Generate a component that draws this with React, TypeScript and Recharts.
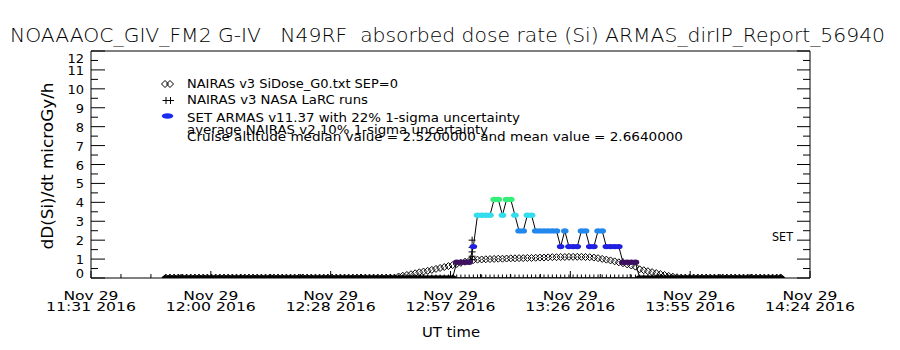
import { ComposedChart, Line, XAxis, YAxis } from "recharts";

// time axis, minutes of the day (UT)
const T_START = 691; // 11:31
const T_END = 864; // 14:24
const FIRST_SAMPLE = 709; // first 1-minute sample, 11:49

const tickDates = ["Nov 29", "Nov 29", "Nov 29", "Nov 29", "Nov 29", "Nov 29", "Nov 29"];
const tickClock = ["11:31 2016", "12:00 2016", "12:28 2016", "12:57 2016", "13:26 2016", "13:55 2016", "14:24 2016"];

// NAIRAS v3 SiDose_G0 (1-minute samples from 11:49)
const nairasDose = [
  0.02, 0.02, 0.02, 0.02, 0.02, 0.02, 0.02, 0.02, 0.02, 0.02,
  0.02, 0.02, 0.02, 0.02, 0.02, 0.02, 0.02, 0.02, 0.02, 0.02,
  0.02, 0.02, 0.02, 0.02, 0.02, 0.02, 0.02, 0.02, 0.02, 0.02,
  0.02, 0.02, 0.02, 0.02, 0.02, 0.02, 0.02, 0.02, 0.02, 0.02,
  0.02, 0.02, 0.02, 0.02, 0.02, 0.02, 0.02, 0.02, 0.02, 0.02,
  0.02, 0.02, 0.02, 0.02, 0.02, 0.02, 0.08, 0.12, 0.16, 0.2,
  0.25, 0.3, 0.34, 0.38, 0.43, 0.48, 0.53, 0.58, 0.63, 0.68,
  0.74, 0.8, 0.86, 0.91, 0.95, 0.97, 0.98, 0.99, 1.0, 1.01,
  1.02, 1.02, 1.03, 1.04, 1.04, 1.05, 1.05, 1.06, 1.06, 1.07,
  1.08, 1.08, 1.09, 1.1, 1.1, 1.11, 1.11, 1.12, 1.12, 1.12,
  1.12, 1.11, 1.1, 1.08, 1.05, 1.01, 0.97, 0.93, 0.88, 0.83,
  0.78, 0.72, 0.66, 0.6, 0.46, 0.41, 0.36, 0.31, 0.26, 0.21,
  0.16, 0.11, 0.07, 0.04, 0.02, 0.02, 0.02, 0.02, 0.02, 0.02,
  0.02, 0.02, 0.02, 0.02, 0.02, 0.02, 0.02, 0.02, 0.02, 0.02,
  0.02, 0.02, 0.02, 0.02, 0.02, 0.02, 0.02, 0.02, 0.02,
];

// SET ARMAS v11.37 (1-minute samples from 11:49)
const armasDose = [
  0, 0, 0, 0, 0, 0, 0, 0, 0, 0,
  0, 0, 0, 0, 0, 0, 0, 0, 0, 0,
  0, 0, 0, 0, 0, 0, 0, 0, 0, 0,
  0, 0, 0, 0, 0, 0, 0, 0, 0, 0,
  0, 0, 0, 0, 0, 0, 0, 0, 0, 0,
  0, 0, 0, 0, 0, 0, 0, 0, 0, 0,
  0, 0, 0, 0, 0, 0, 0, 0, 0, 0,
  0.83, 0.83, 0.83, 0.83, 1.66, 3.32, 3.32, 3.32, 3.32, 4.15,
  4.15, 3.32, 4.15, 4.15, 3.32, 2.49, 2.49, 3.32, 3.32, 2.49,
  2.49, 2.49, 2.49, 2.49, 2.49, 1.66, 2.49, 1.66, 1.66, 1.66,
  2.49, 2.49, 1.66, 1.66, 2.49, 2.49, 1.66, 1.66, 1.66, 1.66,
  0.83, 0.83, 0.83, 0.83, 0, 0, 0, 0, 0, 0,
  0, 0, 0, 0, 0, 0, 0, 0, 0, 0,
  0, 0, 0, 0, 0, 0, 0, 0, 0, 0,
  0, 0, 0, 0, 0, 0, 0, 0, 0,
];

// NAIRAS v3 NASA LaRC runs (1-minute samples from 11:49)
const larcDose = [
  0, 0, 0, 0, 0, 0, 0, 0, 0, 0,
  0, 0, 0, 0, 0, 0, 0, 0, 0, 0,
  0, 0, 0, 0, 0, 0, 0, 0, 0, 0,
  0, 0, 0, 0, 0, 0, 0, 0, 0, 0,
  0, 0, 0, 0, 0, 0, 0, 0, 0, 0,
  0, 0, 0, 0, 0, 0, 0, 0, 0, 0,
  0, 0, 0, 0, 0, 0, 0, 0, 0, 0,
  0, 0, 0, 0, 0, 0, 0, 0, 0, 0,
  0, 0, 0, 0, 0, 0, 0, 0, 0, 0,
  0, 0, 0, 0, 0, 0, 0, 0, 0, 0,
  0, 0, 0, 0, 0, 0, 0, 0, 0, 0,
  0, 0, 0, 0, 0, 0, 0, 0, 0, 0,
  0, 0, 0, 0, 0, 0, 0, 0, 0, 0,
  0, 0, 0, 0, 0, 0, 0, 0, 0, 0,
  0, 0, 0, 0, 0, 0, 0, 0, 0,
];
// extra LaRC runs during climb / descent
const larcRunTime = [782.7, 782.7, 782.7, 782.7, 782.7, 819];
const larcRunDose = [2.0, 1.62, 1.38, 1.15, 0.97, 0.86];

const FONT = '"DejaVu Sans", sans-serif';
const FW = 400; // small text
const FW_LIGHT = 200; // large text (thin strokes like the vector font)

const xTicks = Array.from({ length: 25 }, (_, i) => T_START + ((T_END - T_START) * i) / 24);
const yTicks = Array.from({ length: 25 }, (_, i) => i * 0.5);

function armasColor(v: number) {
  if (v < 0.4) return "#000000";
  if (v < 1.2) return "#3e1060";
  if (v < 2.0) return "#2020e0";
  if (v < 2.9) return "#2288ee";
  if (v < 3.7) return "#33dded";
  return "#33ee77";
}

function BottomTick(props: any) {
  const { x, y, index } = props;
  const major = index % 4 === 0;
  const k = index / 4;
  return (
    <g>
      <line x1={x} x2={x} y1={y} y2={y - (major ? 7 : 4)} stroke="#000" />
      {major && (
        <>
          <text x={x} y={y + 22} textAnchor="middle" fontFamily={FONT} fontWeight={FW} fontSize={12.5}
            textLength={55} lengthAdjust="spacingAndGlyphs" fill="#000">{tickDates[k]}</text>
          <text x={x} y={y + 32.5} textAnchor="middle" fontFamily={FONT} fontWeight={FW} fontSize={12.5}
            textLength={90} lengthAdjust="spacingAndGlyphs" fill="#000">{tickClock[k]}</text>
        </>
      )}
    </g>
  );
}

function TopTick(props: any) {
  const { x, y, index } = props;
  const major = index % 4 === 0;
  return <line x1={x} x2={x} y1={y} y2={y + (major ? 7 : 4)} stroke="#000" />;
}

function LeftTick(props: any) {
  const { x, y, payload } = props;
  const v = payload.value;
  const major = Number.isInteger(v);
  let dy = 5;
  if (v === 12) dy = 12;
  if (v === 0) dy = 0;
  return (
    <g>
      <line x1={x} x2={x + (major ? 14 : 7)} y1={y} y2={y} stroke="#000" />
      {major && (
        <text x={x - 7} y={y + dy} textAnchor="end" fontFamily={FONT} fontWeight={FW} fontSize={13} fill="#000">
          {v}
        </text>
      )}
    </g>
  );
}

function RightTick(props: any) {
  const { x, y, payload } = props;
  const v = payload.value;
  const major = Number.isInteger(v);
  return (
    <g>
      <line x1={x} x2={x - (major ? 13 : 7)} y1={y} y2={y} stroke="#000" />
      {v === 2 && (
        <text x={x - 17} y={y + 1} textAnchor="end" fontFamily={FONT} fontWeight={FW} fontSize={12}
          textLength={21} lengthAdjust="spacingAndGlyphs" fill="#000">SET</text>
      )}
    </g>
  );
}

function Diamond(p: any) {
  if (p.cx == null || p.cy == null) return <g key={p.key} />;
  const { cx, cy } = p;
  return (
    <path key={`n${p.index}`} d={`M${cx},${cy - 3.5}L${cx + 3.5},${cy}L${cx},${cy + 3.5}L${cx - 3.5},${cy}Z`}
      fill="none" stroke="#000" strokeWidth={1} />
  );
}

function Plus(p: any) {
  if (p.cx == null || p.cy == null) return <g key={p.key} />;
  const { cx, cy } = p;
  return (
    <path key={`l${p.index}`} d={`M${cx - 3.5},${cy}H${cx + 3.5}M${cx},${cy - 3.5}V${cy + 3.5}`}
      stroke="#000" strokeWidth={1} fill="none" />
  );
}

function ArmasDot(p: any) {
  if (p.cx == null || p.cy == null) return <g key={p.key} />;
  return <ellipse key={`a${p.index}`} cx={p.cx} cy={p.cy} rx={3.8} ry={2.7} fill={armasColor(p.payload.v)} />;
}

export default function App() {
  const nairasData = nairasDose.map((v, i) => ({ t: FIRST_SAMPLE + i, v }));
  const armasData = armasDose.map((v, i) => ({ t: FIRST_SAMPLE + i, v }));
  const larcData = [
    ...larcDose.map((v, i) => ({ t: FIRST_SAMPLE + i, v })),
    ...larcRunTime.map((t, i) => ({ t, v: larcRunDose[i] })),
  ];

  const txt = { fontFamily: FONT, fontWeight: FW, fill: "#000" } as const;
  const txtLight = { fontFamily: FONT, fontWeight: FW_LIGHT, fill: "#000" } as const;

  return (
    <div style={{ position: "absolute", left: 0, top: 0, width: 900, height: 350, background: "#fff" }}>
      <ComposedChart width={900} height={350} margin={{ top: 21, right: 0, bottom: 0, left: 0 }}>
        <XAxis xAxisId="bottom" dataKey="t" type="number" domain={[T_START, T_END]} ticks={xTicks}
          interval={0} allowDataOverflow height={72} tickSize={0} tickMargin={0} tickLine={false}
          tick={(p: any) => <BottomTick {...p} />} axisLine={{ stroke: "#000" }} />
        <XAxis xAxisId="top" orientation="top" type="number" domain={[T_START, T_END]} ticks={xTicks}
          interval={0} allowDataOverflow height={30} tickSize={0} tickMargin={0} tickLine={false}
          tick={(p: any) => <TopTick {...p} />} axisLine={{ stroke: "#000" }} />
        <YAxis yAxisId="left" type="number" domain={[0, 12]} ticks={yTicks} interval={0} allowDataOverflow
          width={91} tickSize={0} tickMargin={0} tickLine={false}
          tick={(p: any) => <LeftTick {...p} />} axisLine={{ stroke: "#000" }} />
        <YAxis yAxisId="right" orientation="right" type="number" domain={[0, 12]} ticks={yTicks} interval={0}
          allowDataOverflow width={90} tickSize={0} tickMargin={0} tickLine={false}
          tick={(p: any) => <RightTick {...p} />} axisLine={{ stroke: "#000" }} />

        <Line xAxisId="bottom" yAxisId="left" data={nairasData} dataKey="v" stroke="none"
          dot={Diamond} activeDot={false} isAnimationActive={false} />
        <Line xAxisId="bottom" yAxisId="left" data={larcData} dataKey="v" stroke="none"
          dot={Plus} activeDot={false} isAnimationActive={false} />
        <Line xAxisId="bottom" yAxisId="left" data={armasData} dataKey="v" type="linear" stroke="#000"
          strokeWidth={1} dot={ArmasDot} activeDot={false} isAnimationActive={false} />
      </ComposedChart>

      <svg width={900} height={350} style={{ position: "absolute", left: 0, top: 0, pointerEvents: "none" }}>
        <text x={10} y={42} fontSize={20} textLength={875} lengthAdjust="spacingAndGlyphs"
          style={{ whiteSpace: "pre" }} {...txtLight}>
          {"NOAAAOC_GIV_FM2 G-IV   N49RF  absorbed dose rate (Si) ARMAS_dirIP_Report_56940"}
        </text>

        {/* legend */}
        <path d="M165,80.5L168.5,84L165,87.5L161.5,84ZM170,80.5L173.5,84L170,87.5L166.5,84Z" fill="none" stroke="#000" />
        <path d="M162.5,100.5H169.5M166,97V104M167,100.5H174M170.5,97V104" fill="none" stroke="#000" />
        <ellipse cx={167.5} cy={116} rx={5.8} ry={2.8} fill="#1a2cf0" />
        <text x={187} y={88} fontSize={12} textLength={211} lengthAdjust="spacingAndGlyphs" {...txt}>
          NAIRAS v3 SiDose_G0.txt SEP=0
        </text>
        <text x={187} y={104} fontSize={12} textLength={181} lengthAdjust="spacingAndGlyphs" {...txt}>
          NAIRAS v3 NASA LaRC runs
        </text>
        <text x={187} y={122} fontSize={12} textLength={333} lengthAdjust="spacingAndGlyphs" {...txt}>
          SET ARMAS v11.37 with 22% 1-sigma uncertainty
        </text>
        <text x={187} y={134} fontSize={12} textLength={301} lengthAdjust="spacingAndGlyphs" {...txt}>
          average NAIRAS v2 10% 1-sigma uncertainty
        </text>
        <text x={187} y={140.5} fontSize={12} textLength={496} lengthAdjust="spacingAndGlyphs" {...txt}>
          Cruise altitude median value = 2.5200000 and mean value = 2.6640000
        </text>

        {/* axis titles */}
        <text transform="translate(53,166) rotate(-90)" textAnchor="middle" fontSize={15} textLength={167}
          lengthAdjust="spacingAndGlyphs" {...txt}>
          dD(Si)/dt microGy/h
        </text>
        <text x={422} y={337} fontSize={13.5} textLength={58} lengthAdjust="spacingAndGlyphs" {...txt}>
          UT time
        </text>
      </svg>
    </div>
  );
}
